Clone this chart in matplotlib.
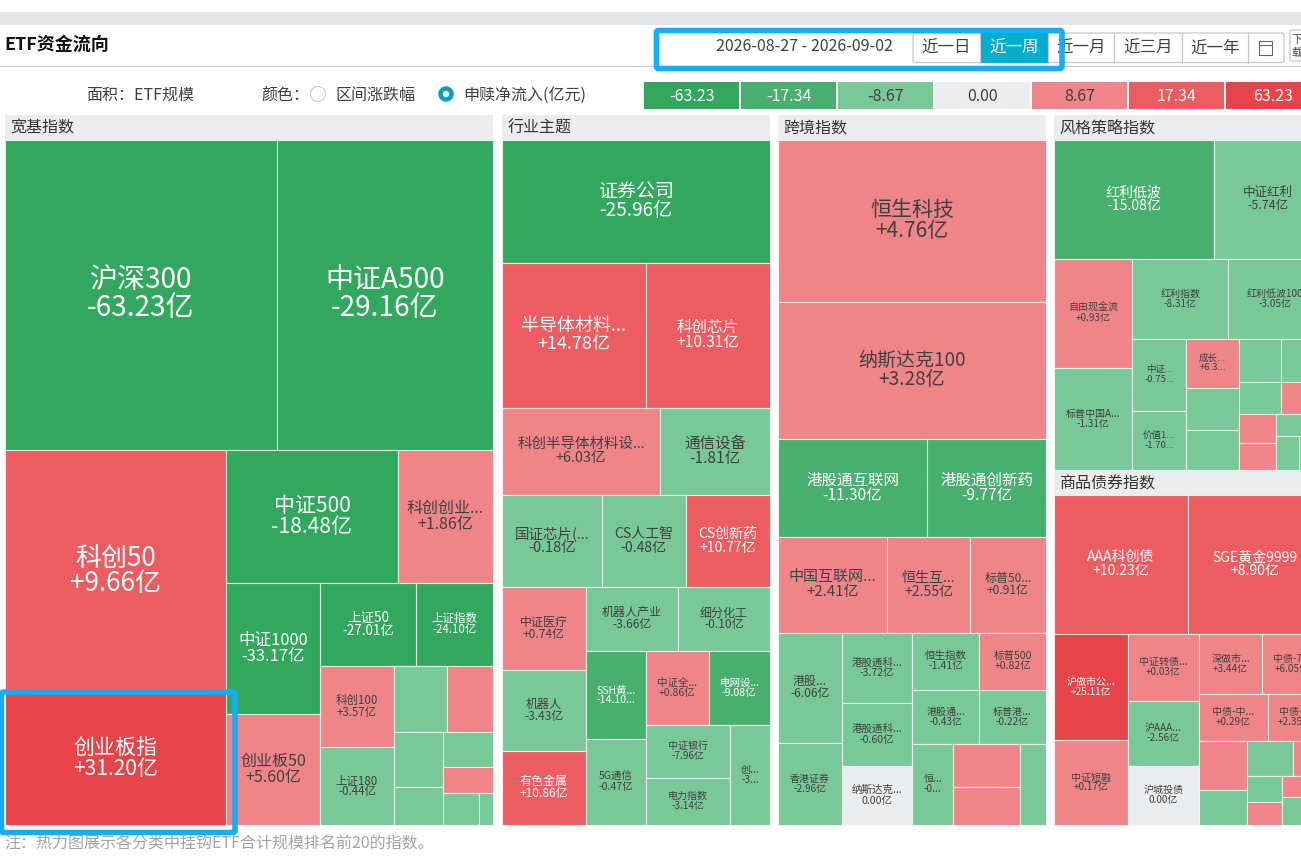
import matplotlib
matplotlib.use('Agg')
import matplotlib.pyplot as plt
from matplotlib.patches import Rectangle, FancyBboxPatch, Circle

plt.rcParams['font.family'] = ['Noto Sans CJK SC', 'DejaVu Sans']

# ---------- data (ETF scale = cell area, net flow = colour) ----------
broad_names = ['沪深300', '中证A500', '科创50', '创业板指', '中证500', '科创创业...', '中证1000', '创业板50', '上证50', '上证指数',
               '科创100', '上证180', '', '', '', '', '', '', '', '']
broad_scale = [84320, 66960, 53700, 29172, 22876, 12635, 12314, 10434, 7926, 6416,
               6031, 5735, 3498, 3036, 2697, 1888, 1765, 1300, 1122, 453]
broad_flow = [-63.23, -29.16, 9.66, 31.20, -18.48, 1.86, -33.17, 5.60, -27.01, -24.10,
              3.57, -0.44, -1, 1, -1, -1, -1, 1, -1, -1]

sector_names = ['证券公司', '半导体材料...', '科创芯片', '科创半导体材料设...', '通信设备', '国证芯片(...', 'CS人工智', 'CS创新药', '中证医疗', '机器人',
                '有色金属', '机器人产业', '细分化工', 'SSH黄...', '5G通信', '中证全...', '电网设...', '中证银行', '电力指数', '创...']
sector_scale = [32964, 20736, 17990, 13825, 9625, 9154, 7774, 7728, 6947, 6754,
                6219, 5907, 5869, 5280, 5160, 4632, 4544, 4452, 3990, 3960]
sector_flow = [-25.96, 14.78, 10.31, 6.03, -1.81, -0.18, -0.48, 10.77, 0.74, -3.43,
               10.86, -3.66, -0.10, -14.10, -0.47, 0.86, -9.08, -7.96, -3.14, -3.0]

cross_names = ['恒生科技', '纳斯达克100', '港股通互联网', '港股通创新药', '中国互联网...', '恒生互...', '标普50...', '港股...', '香港证券', '港股通科...',
               '港股通科...', '纳斯达克...', '恒生指数', '标普500', '港股通...', '标普港...', '恒...', '', '', '']
cross_scale = [43416, 36716, 14602, 11662, 10464, 7968, 7296, 7007, 5223, 4942,
               4448, 4165, 3819, 3819, 3618, 3618, 3297, 2900, 2527, 2106]
cross_flow = [4.76, 3.28, -11.30, -9.77, 2.41, 2.55, 0.91, -6.06, -2.96, -3.72,
              -0.60, 0.0, -1.41, 0.82, -0.43, -0.22, -0.5, 1, 1, -1]

style_names = ['红利低波', '中证红利', '自由现金流', '标普中国A...', '红利指数', '红利低波100', '中证...', '价值1...', '成长...', '',
               '', '', '', '', '', '', '', '', '', '']
style_scale = [19000, 12820, 8535, 7987, 7680, 7520, 3888, 3186, 2597, 2226,
               2120, 1785, 1763, 1344, 1312, 1062, 1010, 1012, 782, 780]
style_flow = [-15.08, -5.74, 0.93, -1.31, -8.31, -3.05, -0.75, -1.70, 6.3, -1,
              -1, -1, -1, -1, 1, 1, 1, -1, -1, -1]

bond_names = ['AAA科创债', 'SGE黄金9999', '沪做市公...', '中证短融', '中证转债...', '沪AAA...', '沪城投债', '深做市...', '中债-7...', '中债-中...',
              '中债-...', '', '', '', '', '', '', '', '', '']
bond_scale = [18600, 18500, 7849, 6242, 4724, 4583, 4160, 3776, 3540, 3278,
              2589, 2303, 1692, 1598, 986, 918, 816, 840, 600, 500]
bond_flow = [10.23, 8.90, 25.11, 0.17, 0.03, -2.56, 0.0, 3.44, 6.05, 0.29,
             2.35, 1, -1, -1, 1, -1, 1, 1, -1, -1]

truncated_flow = {'SSH黄...': '-14.10...', '创...': '-3...', '恒...': '-0...',
                  '中证...': '-0.75...', '成长...': '+6.3...', '价值1...': '-1.70...'}

legend_values = [-63.23, -17.34, -8.67, 0.00, 8.67, 17.34, 63.23]
panel_titles = ['宽基指数', '行业主题', '跨境指数', '风格策略指数', '商品债券指数']
range_buttons = ['近一日', '近一周', '近一月', '近三月', '近一年']

# ---------- styles ----------
broad_px = [28, 28, 26, 21, 21, 16, 16.5, 16, 13.5, 11.5, 11.5, 11.5, 0, 0, 0, 0, 0, 0, 0, 0]
sector_px = [19, 18, 15.5, 14.5, 15.5, 14.5, 14, 14, 12, 12, 12, 12, 12, 10.5, 10.5, 10.5, 10.5, 10, 10, 10]
cross_px = [21, 19, 15.5, 15.5, 15, 14, 12, 12, 10, 10.5, 10.5, 10.5, 10.5, 10.5, 10, 10, 10, 0, 0, 0]
style_px = [14, 12.5, 10, 10, 10, 10, 9.5, 9.5, 9.5, 0, 0, 0, 0, 0, 0, 0, 0, 0, 0, 0]
bond_px = [14, 14, 10, 10, 10, 10, 10, 10, 10, 10, 10, 0, 0, 0, 0, 0, 0, 0, 0, 0]

DARK_G, MID_G, LIGHT_G = '#32A85E', '#47B06E', '#78C997'
GRAY = '#EBECEE'
LIGHT_R, MID_R, DEEP_R = '#EF8589', '#EC5C61', '#E64448'
TXT = '#404040'
BLUE = '#13AEFF'
TEAL = '#00AFCB'


def fill_of(v):
    if v == 0:
        return GRAY
    a = abs(v)
    if v < 0:
        return LIGHT_G if a <= 8.67 else (MID_G if a <= 17.34 else DARK_G)
    return LIGHT_R if a <= 8.67 else (MID_R if a <= 17.34 else DEEP_R)


def ink_of(v):
    return TXT if abs(v) <= 8.67 else 'white'


def flow_label(name, v):
    if name in truncated_flow:
        return truncated_flow[name]
    if v == 0:
        return '0.00亿'
    return f'{v:+.2f}亿'


def squarify(scale, x, y, w, h, ratio=0.9):
    """Squarified treemap layout, laid out in the given order."""
    k = w * h / sum(scale)
    areas = [s * k for s in scale]
    out = [None] * len(areas)
    rect = [x, y, w, h]

    def place(row, row_area, fixed):
        thick = row_area / fixed
        horizontal = fixed == rect[2]
        pos = rect[0] if horizontal else rect[1]
        for i in row:
            length = areas[i] / thick
            if horizontal:
                out[i] = (pos, rect[1], length, thick)
            else:
                out[i] = (rect[0], pos, thick, length)
            pos += length
        if horizontal:
            rect[1] += thick
            rect[3] -= thick
        else:
            rect[0] += thick
            rect[2] -= thick

    def worst(row, row_area, fixed):
        vals = [areas[i] for i in row]
        sq = row_area * row_area
        f = fixed * fixed * ratio
        return max(f * max(vals) / sq, sq / (f * min(vals)))

    row, row_area, best = [], 0.0, float('inf')
    fixed = min(rect[2], rect[3])
    i = 0
    while i < len(areas):
        row.append(i)
        row_area += areas[i]
        score = worst(row, row_area, fixed)
        if score <= best:
            best = score
            i += 1
        else:
            row.pop()
            row_area -= areas[i]
            place(row, row_area, fixed)
            fixed = min(rect[2], rect[3])
            row, row_area, best = [], 0.0, float('inf')
    if row:
        place(row, row_area, fixed)
    return out


fig = plt.figure(figsize=(13.01, 8.61), dpi=100, facecolor='white')
ax = fig.add_axes([0, 0, 1, 1])
ax.set_xlim(0, 1301)
ax.set_ylim(861, 0)
ax.axis('off')


def put(x, y, s, px, color=TXT, ha='center', va='center', **kw):
    return ax.text(x, y + 0.1 * px, s, fontsize=px * 0.72, color=color, ha=ha, va=va, **kw)


def box(x0, y0, x1, y1, **kw):
    ax.add_patch(Rectangle((x0, y0), x1 - x0, y1 - y0, **kw))


# top chrome
box(0, 12, 1301, 25, fc='#E5E6E8', ec='none')
box(0, 66, 1301, 67, fc='#C9C9C9', ec='none')
put(4, 43, 'ETF资金流向', 18, color='#111111', ha='left', fontweight='bold')
put(804.5, 45, '2026-08-27 - 2026-09-02', 16, ha='center')

ax.add_patch(FancyBboxPatch((913, 33), 371, 29.5, boxstyle='round,pad=0,rounding_size=2', fc='white', ec='#C6C6C6', lw=0.9))
box(980, 33, 1048, 62.5, fc=TEAL, ec='none')
for bx in [980, 1048, 1114, 1182, 1248]:
    ax.plot([bx, bx], [33, 62.5], color='#C6C6C6', lw=0.9)
for label, cx in zip(range_buttons, [946.5, 1014, 1081, 1148, 1215]):
    put(cx, 46.5, label, 16.5, color='white' if label == '近一周' else TXT)
ax.add_patch(Rectangle((1259, 41), 13, 14, fc='none', ec='#666666', lw=0.8))
ax.plot([1259, 1272], [45, 45], color='#666666', lw=0.8)
ax.add_patch(FancyBboxPatch((1290, 30), 40, 31, boxstyle='round,pad=0,rounding_size=2', fc='white', ec='#C6C6C6', lw=0.9))
put(1291, 39, '下', 11, ha='left')
put(1291, 52, '载', 11, ha='left')

# control row
put(86, 94, '面积：ETF规模', 16, ha='left')
put(261, 94, '颜色：', 16, ha='left')
ax.add_patch(Circle((318, 94), 7.5, fc='white', ec='#CCCCCC', lw=0.8))
put(335, 94, '区间涨跌幅', 16, ha='left')
ax.add_patch(Circle((446, 94), 5.5, fc='white', ec='#0E9DBA', lw=3.2))
put(463, 94, '申赎净流入(亿元)', 16, ha='left')

# colour legend
for j, v in enumerate(legend_values):
    x0 = 644 + j * 97
    box(x0, 82, x0 + 95, 109, fc=fill_of(v), ec='none')
    put(x0 + 47.5, 95, f'{v:.2f}', 16, color=ink_of(v))

# panels
panels = [
    (broad_names, broad_scale, broad_flow, broad_px, 5, 140, 488, 685),
    (sector_names, sector_scale, sector_flow, sector_px, 502, 140, 268, 685),
    (cross_names, cross_scale, cross_flow, cross_px, 778, 140, 268, 685),
    (style_names, style_scale, style_flow, style_px, 1054, 140, 268, 330),
    (bond_names, bond_scale, bond_flow, bond_px, 1054, 495, 268, 330),
]
for title, (names, scale, flow, pxs, x, y, w, h) in zip(panel_titles, panels):
    top = y - 25 if y == 140 else y - 24
    box(x, top, x + w, y, fc=GRAY, ec='none')
    put(x + 5.5, top + 11.5, title, 16, color='#333333', ha='left')
    for name, v, px, (cx, cy, cw, ch) in zip(names, flow, pxs, squarify(scale, x, y, w, h)):
        ax.add_patch(Rectangle((cx, cy), cw, ch, fc=fill_of(v), ec=(1, 1, 1, 0.7), lw=0.8))
        if name:
            mid = cy + ch / 2 - 0.12 * px
            ink = ink_of(v)
            put(cx + cw / 2, mid - 0.5 * px, name, px, color=ink)
            put(cx + cw / 2, mid + 0.5 * px, flow_label(name, v), px, color=ink)

put(4, 842, '注：热力图展示各分类中挂钩ETF合计规模排名前20的指数。', 16, color='#A3A3A3', ha='left')

# highlight frames
for x0, y0, x1, y1 in [(656.5, 30.5, 1062, 68.5), (1.5, 692, 235, 832.5)]:
    ax.add_patch(FancyBboxPatch((x0, y0), x1 - x0, y1 - y0, boxstyle='round,pad=0,rounding_size=2',
                                fc='none', ec=BLUE, lw=4, zorder=10))

fig.savefig('out.png', dpi=100)
